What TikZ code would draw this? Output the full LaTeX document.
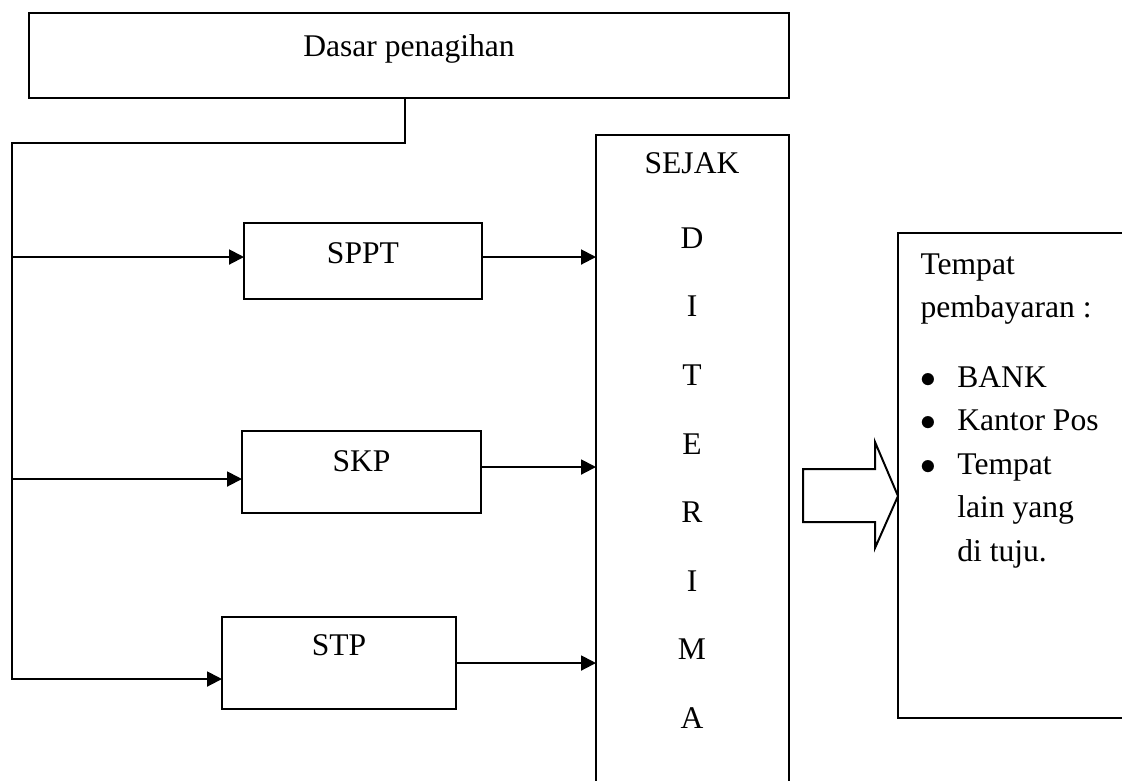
\documentclass[tikz,border=0pt]{standalone}
\usepackage{fontspec}
\setmainfont{Liberation Serif}
\usetikzlibrary{arrows.meta}

\tikzset{
  % For the boxes that carry their name near the top.
  stage box/.style={
    draw,
    line width=0.75pt,
    anchor=north west,
    inner sep=0pt,
    outer sep=0pt,
    text height=15.2pt},
%
  % For the connectors between the boxes.
  flow/.style={
    line width=0.75pt,
    -{Triangle[length=5.7pt,width=5.7pt]}},
%
  % For the letters stacked in the receiving box.
  letter/.style={
    inner sep=0pt},
%
  % For the outlined block arrow.
  hollow arrow/.style={
    line width=0.75pt,
    fill=white},
}

\begin{document}
\begin{tikzpicture}[x=0.38pt,y=-0.38pt,font=\fontsize{12pt}{16.5pt}\selectfont]
  \useasboundingbox (0,0) rectangle (1122,780);
  \clip (0,0) rectangle (1122,780);

  \node[stage box, minimum width=288.8pt, text height=16.7pt, text depth=15.6pt]
    (dasar) at (29,13) {Dasar penagihan};
  \node[stage box, minimum width=90.4pt, text depth=13.7pt] (sppt) at (244,223) {SPPT};
  \node[stage box, minimum width=90.8pt, text depth=16pt] (skp) at (242,431) {SKP};
  \node[stage box, minimum width=88.9pt, text height=14.8pt, text depth=20.2pt]
    (stp) at (222,617) {STP};

  % The receiving box runs on past the lower edge.
  \node[stage box, minimum width=73.3pt, minimum height=252.7pt] (sejak) at (596,135) {};
  \node[letter] (title) at (692,163) {SEJAK};
  \foreach \ch [count=\i] in {D,I,T,E,R,I,M,A}
    \node[letter] (l\i) at (692,{238+68.6*(\i-1)}) {\ch};

  % The payment box runs on past the right edge.
  \node[stage box, minimum width=92pt, minimum height=184.3pt] (tempat) at (898,233) {};
  \node[anchor=north west, inner sep=0pt, align=left] (places) at (920,253)
    {Tempat\\
     pembayaran :\\[10pt]
     \makebox[14pt][l]{$\bullet$}BANK\\
     \makebox[14pt][l]{$\bullet$}Kantor Pos\\
     \makebox[14pt][l]{$\bullet$}Tempat\\
     \hspace*{14pt}lain yang\\
     \hspace*{14pt}di tuju.};

  \draw[hollow arrow] (803,469) -- (875,469) -- (875,442) -- (tempat.west |- 0,496)
    -- (875,548) -- (875,522) -- (803,522) -- cycle;

  \coordinate (drop) at (405,143);
  \coordinate (in1) at (12,257);
  \coordinate (in2) at (12,479);
  \coordinate (in3) at (12,679);
  \coordinate (out2) at (0,467);
  \coordinate (out3) at (0,663);

  \draw[flow] (dasar.south -| drop) -- (drop) -- (drop -| in3) -- (in3) -- (in3 -| stp.west);
  \draw[flow] (in1) -- (in1 -| sppt.west);
  \draw[flow] (in2) -- (in2 -| skp.west);

  \draw[flow] (sppt.east |- in1) -- (sejak.west |- in1);
  \draw[flow] (skp.east |- out2) -- (sejak.west |- out2);
  \draw[flow] (stp.east |- out3) -- (sejak.west |- out3);
\end{tikzpicture}
\end{document}
